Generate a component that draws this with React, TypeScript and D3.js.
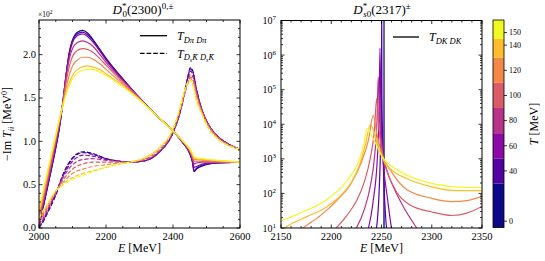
import * as d3 from "d3";

const temps = [0, 40, 60, 80, 100, 120, 140, 150];
const cbBounds = [-5, 30, 50, 70, 90, 110, 130, 145, 160];

// left panel, -Im T in units of 10^2
const solidE = [2000, 2010, 2020, 2030, 2040, 2050, 2060, 2070, 2080, 2090, 2100, 2115, 2130, 2145, 2160, 2180, 2200, 2250, 2300, 2350, 2400, 2430, 2450, 2458, 2463, 2470, 2490, 2530, 2600];
const solidT0 = [0.02, 0.19, 0.37, 0.55, 0.73, 0.92, 1.13, 1.4, 1.74, 2.02, 2.17, 2.26, 2.28, 2.25, 2.18, 2.07, 1.96, 1.72, 1.5, 1.3, 1.12, 0.98, 0.86, 0.76, 0.65, 0.68, 0.72, 0.75, 0.76];
const solidT40 = [0.03, 0.2, 0.38, 0.56, 0.74, 0.93, 1.14, 1.41, 1.74, 2.01, 2.16, 2.24, 2.26, 2.23, 2.17, 2.06, 1.95, 1.72, 1.5, 1.3, 1.12, 0.98, 0.86, 0.77, 0.66, 0.69, 0.73, 0.75, 0.76];
const solidT60 = [0.05, 0.22, 0.4, 0.58, 0.76, 0.95, 1.16, 1.42, 1.74, 1.99, 2.14, 2.22, 2.24, 2.21, 2.15, 2.05, 1.94, 1.71, 1.5, 1.3, 1.12, 0.98, 0.87, 0.78, 0.7, 0.71, 0.74, 0.75, 0.76];
const solidT80 = [0.08, 0.25, 0.43, 0.61, 0.79, 0.98, 1.18, 1.42, 1.71, 1.94, 2.07, 2.14, 2.16, 2.14, 2.1, 2.01, 1.91, 1.7, 1.5, 1.3, 1.12, 0.99, 0.88, 0.8, 0.74, 0.75, 0.76, 0.76, 0.76];
const solidT100 = [0.11, 0.28, 0.46, 0.64, 0.82, 1.01, 1.2, 1.41, 1.66, 1.86, 1.98, 2.05, 2.07, 2.06, 2.03, 1.96, 1.88, 1.68, 1.49, 1.3, 1.12, 0.99, 0.89, 0.82, 0.77, 0.77, 0.77, 0.76, 0.76];
const solidT120 = [0.15, 0.32, 0.5, 0.68, 0.86, 1.04, 1.22, 1.4, 1.6, 1.76, 1.87, 1.94, 1.97, 1.97, 1.95, 1.9, 1.83, 1.66, 1.49, 1.3, 1.12, 1.0, 0.9, 0.84, 0.79, 0.79, 0.78, 0.77, 0.76];
const solidT140 = [0.19, 0.36, 0.54, 0.71, 0.89, 1.06, 1.24, 1.4, 1.55, 1.67, 1.76, 1.83, 1.86, 1.87, 1.86, 1.83, 1.78, 1.64, 1.48, 1.3, 1.12, 1.0, 0.91, 0.85, 0.81, 0.8, 0.79, 0.78, 0.76];
const solidT150 = [0.22, 0.38, 0.56, 0.73, 0.9, 1.07, 1.24, 1.39, 1.53, 1.64, 1.72, 1.79, 1.82, 1.83, 1.83, 1.8, 1.76, 1.63, 1.48, 1.3, 1.12, 1.0, 0.91, 0.86, 0.82, 0.81, 0.8, 0.78, 0.76];

const dashedE = [2000, 2012, 2025, 2048, 2073, 2100, 2132, 2160, 2200, 2240, 2272, 2320, 2360, 2400, 2420, 2435, 2445, 2452, 2460, 2470, 2485, 2505, 2530, 2560, 2600];
const dashedT0 = [0.0, 0.07, 0.17, 0.36, 0.63, 0.81, 0.88, 0.86, 0.8, 0.77, 0.76, 0.78, 0.88, 1.1, 1.32, 1.58, 1.76, 1.85, 1.8, 1.6, 1.38, 1.2, 1.07, 0.98, 0.91];
const dashedT40 = [0.01, 0.08, 0.18, 0.37, 0.62, 0.8, 0.87, 0.85, 0.8, 0.77, 0.76, 0.78, 0.88, 1.1, 1.32, 1.57, 1.75, 1.84, 1.79, 1.6, 1.38, 1.2, 1.07, 0.98, 0.91];
const dashedT60 = [0.02, 0.09, 0.19, 0.38, 0.61, 0.77, 0.84, 0.83, 0.79, 0.77, 0.76, 0.78, 0.88, 1.1, 1.32, 1.56, 1.73, 1.81, 1.77, 1.59, 1.38, 1.2, 1.07, 0.98, 0.91];
const dashedT80 = [0.04, 0.11, 0.21, 0.39, 0.59, 0.73, 0.79, 0.8, 0.78, 0.77, 0.76, 0.79, 0.89, 1.11, 1.33, 1.55, 1.7, 1.77, 1.74, 1.57, 1.37, 1.19, 1.07, 0.98, 0.91];
const dashedT100 = [0.06, 0.14, 0.23, 0.4, 0.56, 0.68, 0.74, 0.76, 0.76, 0.76, 0.76, 0.8, 0.9, 1.12, 1.34, 1.55, 1.68, 1.74, 1.71, 1.55, 1.36, 1.19, 1.06, 0.97, 0.91];
const dashedT120 = [0.08, 0.16, 0.25, 0.41, 0.53, 0.63, 0.68, 0.71, 0.73, 0.75, 0.76, 0.81, 0.92, 1.13, 1.35, 1.56, 1.67, 1.72, 1.68, 1.52, 1.35, 1.18, 1.05, 0.97, 0.91];
const dashedT140 = [0.11, 0.19, 0.27, 0.42, 0.51, 0.58, 0.63, 0.66, 0.7, 0.74, 0.76, 0.82, 0.93, 1.14, 1.37, 1.58, 1.68, 1.71, 1.65, 1.48, 1.33, 1.16, 1.04, 0.96, 0.91];
const dashedT150 = [0.12, 0.2, 0.28, 0.42, 0.5, 0.56, 0.61, 0.65, 0.7, 0.74, 0.76, 0.82, 0.93, 1.14, 1.38, 1.59, 1.69, 1.71, 1.64, 1.46, 1.32, 1.15, 1.04, 0.96, 0.91];

// right panel, [E, -Im T_DK]
const dkT0 = [[2252.4, 1], [2252.5, 1e9], [2252.6, 1]];
const dkT40 = [[2242, 5], [2245, 10], [2247.8, 150], [2249.2, 3000], [2250, 1e5], [2250.2, 3e7], [2250.4, 1e5], [2251.2, 3000], [2252.6, 150], [2255, 10], [2257, 5]];
const dkT60 = [[2233, 5], [2237, 10], [2242, 70], [2245.5, 700], [2247.5, 15000], [2248.5, 1.6e6], [2249.5, 15000], [2252, 700], [2256, 70], [2260, 10], [2263, 5]];
const dkT80 = [[2220, 6], [2225, 10], [2233, 35], [2239, 170], [2243, 1100], [2245.5, 12000], [2246.8, 230000], [2248.2, 12000], [2251, 1600], [2255, 500], [2262, 150], [2272, 40], [2285, 10], [2290, 6]];
const dkT100 = [[2200, 7], [2205, 10], [2215, 22], [2225, 60], [2233, 220], [2239, 1100], [2243, 7000], [2245.2, 55000], [2247.5, 7000], [2251, 1300], [2255, 480], [2265, 110], [2278, 47], [2300, 29], [2320, 23], [2335, 27], [2350, 42]];
const dkT120 = [[2165, 7], [2172, 10], [2190, 24], [2205, 60], [2220, 200], [2230, 800], [2237, 3500], [2241.8, 18000], [2245, 6000], [2250, 1500], [2260, 420], [2275, 130], [2300, 72], [2320, 58], [2335, 62], [2350, 82]];
const dkT140 = [[2150, 8.5], [2160, 13], [2175, 21], [2195, 40], [2210, 90], [2220, 210], [2228, 650], [2234, 2600], [2239, 10000], [2243, 5500], [2247, 2400], [2251, 1000], [2260, 480], [2275, 270], [2300, 155], [2325, 120], [2350, 120]];
const dkT150 = [[2150, 16], [2170, 28], [2195, 65], [2210, 150], [2220, 340], [2228, 950], [2232, 2300], [2236, 7500], [2240, 4800], [2245, 2500], [2251, 1100], [2260, 620], [2275, 340], [2300, 195], [2325, 155], [2350, 147]];

const solidByT = [solidT0, solidT40, solidT60, solidT80, solidT100, solidT120, solidT140, solidT150];
const dashedByT = [dashedT0, dashedT40, dashedT60, dashedT80, dashedT100, dashedT120, dashedT140, dashedT150];
const dkByT = [dkT0, dkT40, dkT60, dkT80, dkT100, dkT120, dkT140, dkT150];

const leftXTicks = [2000, 2200, 2400, 2600];
const leftYTicks = [0, 0.5, 1.0, 1.5, 2.0];
const rightXTicks = [2150, 2200, 2250, 2300, 2350];
const rightYExp = [1, 2, 3, 4, 5, 6, 7];

const font = "'Liberation Serif', 'Times New Roman', serif";
const color = (i: number) => d3.interpolatePlasma(i / 7);

function Frame({ x, y, xMajor, xMinor, yMajor, yMinor }: any) {
  const [x0, x1] = x.range();
  const [y0, y1] = y.range();
  const M = 3.5, m = 2;
  const segs: JSX.Element[] = [];
  const add = (v: number, len: number, axis: "x" | "y", k: string) => {
    if (axis === "x") {
      const px = x(v);
      segs.push(<line key={k + "b"} x1={px} x2={px} y1={y0} y2={y0 - len} />);
      segs.push(<line key={k + "t"} x1={px} x2={px} y1={y1} y2={y1 + len} />);
    } else {
      const py = y(v);
      segs.push(<line key={k + "l"} x1={x0} x2={x0 + len} y1={py} y2={py} />);
      segs.push(<line key={k + "r"} x1={x1} x2={x1 - len} y1={py} y2={py} />);
    }
  };
  xMajor.forEach((v: number, i: number) => add(v, M, "x", "xM" + i));
  xMinor.forEach((v: number, i: number) => add(v, m, "x", "xm" + i));
  yMajor.forEach((v: number, i: number) => add(v, M, "y", "yM" + i));
  yMinor.forEach((v: number, i: number) => add(v, m, "y", "ym" + i));
  return (
    <g stroke="#000" strokeWidth={0.8}>
      {segs}
      <rect x={x0} y={y1} width={x1 - x0} height={y0 - y1} fill="none" strokeWidth={1} />
    </g>
  );
}

export default function App() {
  const xL = d3.scaleLinear().domain([2000, 2600]).range([39, 240]);
  const yL = d3.scaleLinear().domain([0, 2.4]).range([228, 20]);
  const xR = d3.scaleLinear().domain([2150, 2350]).range([281, 482]);
  const yR = d3.scaleLog().domain([10, 1e7]).range([228, 20.5]);
  const yC = d3.scaleLinear().domain([-5, 160]).range([227.5, 20]);

  const solidLine = d3.line<number>().x((_, i) => xL(solidE[i])).y((d) => yL(d)).curve(d3.curveMonotoneX);
  const dashedLine = d3.line<number>().x((_, i) => xL(dashedE[i])).y((d) => yL(d)).curve(d3.curveMonotoneX);
  const dkLine = d3.line<number[]>().x((d) => xR(d[0])).y((d) => yR(d[1])).curve(d3.curveMonotoneX);

  const leftXMinor = d3.range(2050, 2600, 50).filter((v) => v % 200 !== 0);
  const leftYMinor = d3.range(0.1, 2.4, 0.1).filter((v) => Math.abs(v * 2 - Math.round(v * 2)) > 1e-6);
  const rightXMinor = d3.range(2160, 2350, 10).filter((v) => v % 50 !== 0);
  const rightYMinor: number[] = [];
  for (let e = 1; e < 7; e++) for (let k = 2; k < 10; k++) rightYMinor.push(k * Math.pow(10, e));

  // low temperatures first, as in the original loop
  const order = d3.range(temps.length);

  return (
    <svg width={545} height={261} style={{ position: "absolute", left: 0, top: 0, background: "#fff" }} fontFamily={font}>
      <defs>
        <clipPath id="clipL">
          <rect x={39} y={20} width={201} height={208} />
        </clipPath>
        <clipPath id="clipR">
          <rect x={281} y={20.5} width={201} height={207.5} />
        </clipPath>
      </defs>

      {/* left panel */}
      <g clipPath="url(#clipL)" fill="none" strokeWidth={1.2}>
        {order.map((i) => (
          <g key={"l" + i} stroke={color(i)}>
            <path d={dashedLine(dashedByT[i]) ?? ""} strokeDasharray="4.4,1.9" />
            <path d={solidLine(solidByT[i]) ?? ""} />
          </g>
        ))}
      </g>
      <Frame x={xL} y={yL} xMajor={leftXTicks} xMinor={leftXMinor} yMajor={leftYTicks} yMinor={leftYMinor} />
      {leftXTicks.map((v) => (
        <text key={"lx" + v} x={xL(v)} y={240} fontSize={10.5} textAnchor="middle">{v}</text>
      ))}
      {leftYTicks.map((v) => (
        <text key={"ly" + v} x={36} y={yL(v) + 3.4} fontSize={10.5} textAnchor="end">{v.toFixed(1)}</text>
      ))}
      <text x={38} y={16.5} fontSize={7.5}>×10<tspan fontSize={5.5} dy={-3}>2</tspan></text>
      <text x={139.5} y={252} fontSize={12} textAnchor="middle"><tspan fontStyle="italic">E</tspan> [MeV]</text>
      <text transform="translate(11,124) rotate(-90)" fontSize={12} textAnchor="middle">
        −Im <tspan fontStyle="italic">T</tspan><tspan fontSize={8} dy={2.5} fontStyle="italic">ii</tspan><tspan dy={-2.5}> [MeV</tspan><tspan fontSize={8} dy={-4}>0</tspan><tspan dy={4}>]</tspan>
      </text>
      <text x={143} y={14} fontSize={13} textAnchor="middle">
        <tspan fontStyle="italic">D</tspan><tspan fontSize={9} dy={-5}>*</tspan><tspan fontSize={9} dx={-4} dy={8}>0</tspan><tspan dy={-3}>(2300)</tspan><tspan fontSize={9} dy={-5}>0,±</tspan>
      </text>
      {/* left legend */}
      <line x1={140} x2={167} y1={35.7} y2={35.7} stroke="#000" strokeWidth={1.3} />
      <line x1={140} x2={167} y1={53.3} y2={53.3} stroke="#000" strokeWidth={1.3} strokeDasharray="4.6,2" />
      <text x={177} y={40} fontSize={12} fontStyle="italic">
        T<tspan fontSize={8.5} dy={2.5}>Dπ Dπ</tspan>
      </text>
      <text x={177} y={57.5} fontSize={12} fontStyle="italic">
        T<tspan fontSize={8.5} dy={2.5}>D</tspan><tspan fontSize={6} dy={1.5}>s</tspan><tspan fontSize={8.5} dy={-1.5}>K̄ D</tspan><tspan fontSize={6} dy={1.5}>s</tspan><tspan fontSize={8.5} dy={-1.5}>K̄</tspan>
      </text>

      {/* right panel */}
      <g clipPath="url(#clipR)" fill="none" strokeWidth={1.2}>
        {order.map((i) => (
          <path key={"r" + i} d={dkLine(dkByT[i]) ?? ""} stroke={color(i)} />
        ))}
      </g>
      <Frame x={xR} y={yR} xMajor={rightXTicks} xMinor={rightXMinor} yMajor={rightYExp.map((e) => Math.pow(10, e))} yMinor={rightYMinor} />
      {rightXTicks.map((v) => (
        <text key={"rx" + v} x={xR(v)} y={240} fontSize={10.5} textAnchor="middle">{v}</text>
      ))}
      {rightYExp.map((e) => (
        <text key={"ry" + e} x={276} y={yR(Math.pow(10, e)) + 3.6} fontSize={10} textAnchor="end">
          10<tspan fontSize={7} dy={-4}>{e}</tspan>
        </text>
      ))}
      <text x={381.5} y={252} fontSize={12} textAnchor="middle"><tspan fontStyle="italic">E</tspan> [MeV]</text>
      <text x={382} y={14} fontSize={13} textAnchor="middle">
        <tspan fontStyle="italic">D</tspan><tspan fontSize={9} dy={-5}>*</tspan><tspan fontSize={9} dx={-4} dy={8} fontStyle="italic">s</tspan><tspan fontSize={9}>0</tspan><tspan dy={-3}>(2317)</tspan><tspan fontSize={9} dy={-5}>±</tspan>
      </text>
      <line x1={393} x2={419} y1={37} y2={37} stroke="#000" strokeWidth={1.3} />
      <text x={429} y={41} fontSize={12} fontStyle="italic">
        T<tspan fontSize={8.5} dy={2.5}>DK DK</tspan>
      </text>

      {/* colorbar */}
      {temps.map((t, i) => (
        <rect key={"cb" + t} x={493} width={11} y={yC(cbBounds[i + 1])} height={yC(cbBounds[i]) - yC(cbBounds[i + 1])} fill={color(i)} />
      ))}
      <rect x={493} y={20} width={11} height={207.5} fill="none" stroke="#000" strokeWidth={0.8} />
      {temps.map((t) => (
        <g key={"ct" + t}>
          <line x1={504} x2={507} y1={yC(t)} y2={yC(t)} stroke="#000" strokeWidth={0.8} />
          <text x={509} y={yC(t) + 2.8} fontSize={8}>{t}</text>
        </g>
      ))}
      <text transform="translate(538,124) rotate(-90)" fontSize={12} textAnchor="middle">
        <tspan fontStyle="italic">T</tspan> [MeV]
      </text>
    </svg>
  );
}
